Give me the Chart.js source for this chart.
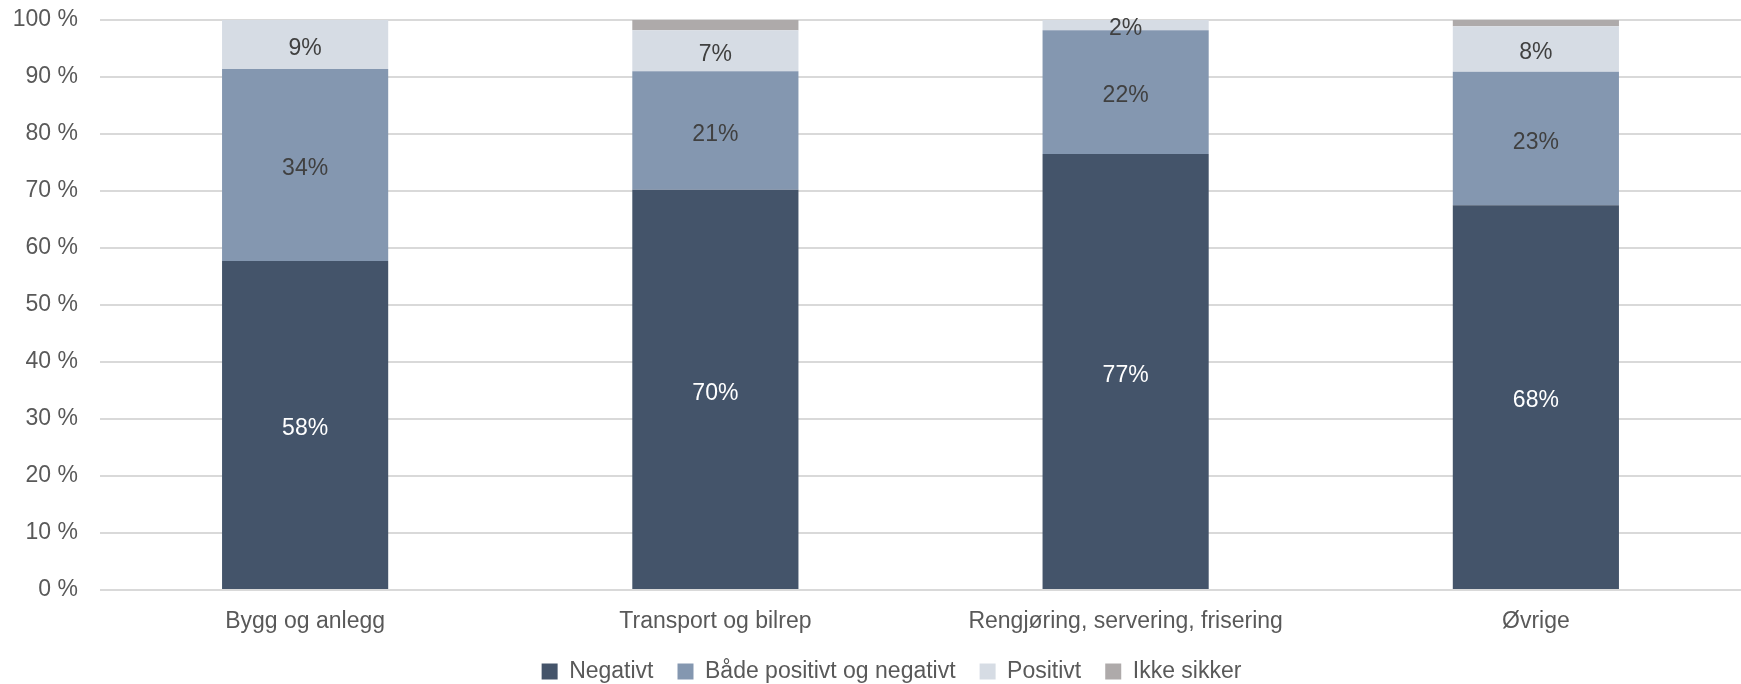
<!DOCTYPE html>
<html lang="no">
<head>
    <meta charset="UTF-8">
    <title>Holdning etter bransje</title>
    <script src="https://cdn.jsdelivr.net/npm/chart.js@4.4.0/dist/chart.umd.min.js"></script>
    <style>
        html, body { margin: 0; padding: 0; background: #fff; }
        #wrap { width: 1741px; height: 684px; }
    </style>
</head>
<body>
<div id="wrap"><canvas id="myChart" width="1741" height="684"></canvas></div>
<script>
    var categories = ['Bygg og anlegg', 'Transport og bilrep', 'Rengjøring, servering, frisering', 'Øvrige'];
    var negativt = [57.7, 70.2, 76.5, 67.5];
    var begge = [33.7, 20.8, 21.7, 23.4];
    var positivt = [8.6, 7.2, 1.8, 8.0];
    var ikkeSikker = [0, 1.8, 0, 1.1];
    var yTicks = [0, 10, 20, 30, 40, 50, 60, 70, 80, 90, 100];

    var textColor = '#595959';
    var font = 'Liberation Sans, Arial, sans-serif';
    var fontSize = 23;

    // draws the percentage in the middle of each segment (not for "Ikke sikker")
    var segmentLabels = {
        id: 'segmentLabels',
        afterDatasetsDraw: function(chart) {
            var ctx = chart.ctx;
            ctx.save();
            ctx.font = fontSize + 'px ' + font;
            ctx.textAlign = 'center';
            ctx.textBaseline = 'middle';
            chart.data.datasets.forEach(function(ds, i) {
                if (ds.noLabel) return;
                var meta = chart.getDatasetMeta(i);
                meta.data.forEach(function(bar, j) {
                    var v = ds.data[j];
                    if (!v) return;
                    ctx.fillStyle = ds.labelColor;
                    ctx.fillText(Math.round(v) + '%', bar.x, (bar.y + bar.base) / 2 + 4);
                });
            });
            ctx.restore();
        }
    };

    // fixed legend height so the plot gets the same room as in the original,
    // and the legend sits a bit right of centre like in the original
    var legendHeight = {
        id: 'legendHeight',
        beforeLayout: function(chart) {
            var lg = chart.legend;
            if (lg && !lg._fixed) {
                var fit = lg.fit;
                lg.fit = function() { fit.call(this); this.height = 48; };
                lg._fixed = true;
            }
        },
        afterLayout: function(chart) {
            chart.legend.left += 21;
            chart.legend.right += 21;
        }
    };

    var ctx = document.getElementById('myChart').getContext('2d');
    var chart = new Chart(ctx, {
        type: 'bar',
        data: {
            labels: categories,
            datasets: [
                { label: 'Negativt', data: negativt, backgroundColor: '#44546A', labelColor: '#ffffff' },
                { label: 'Både positivt og negativt', data: begge, backgroundColor: '#8497B0', labelColor: '#404040' },
                { label: 'Positivt', data: positivt, backgroundColor: '#D6DCE4', labelColor: '#404040' },
                { label: 'Ikke sikker', data: ikkeSikker, backgroundColor: '#AEAAAA', noLabel: true }
            ]
        },
        options: {
            responsive: false,
            animation: false,
            datasets: { bar: { categoryPercentage: 1, barPercentage: 0.405 } },
            layout: { padding: 0 },
            plugins: {
                tooltip: { enabled: false },
                legend: {
                    position: 'bottom',
                    labels: {
                        color: textColor,
                        font: { size: fontSize, family: font },
                        boxWidth: 16,
                        boxHeight: 16,
                        padding: 24
                    }
                }
            },
            scales: {
                x: {
                    stacked: true,
                    grid: { display: false, drawTicks: false, tickLength: 0 },
                    border: { display: false },
                    afterFit: function(axis) { axis.height = 46; },
                    ticks: { color: textColor, font: { size: fontSize, family: font }, padding: 18 }
                },
                y: {
                    stacked: true,
                    min: 0,
                    max: 100,
                    afterBuildTicks: function(axis) {
                        axis.ticks = yTicks.map(function(v) { return { value: v }; });
                    },
                    afterFit: function(axis) {
                        axis.width = 100;
                        axis.paddingTop = 20;
                        axis.paddingBottom = 14;
                    },
                    grid: { color: '#D9D9D9', lineWidth: 2, drawTicks: false },
                    border: { display: false },
                    ticks: {
                        color: textColor,
                        font: { size: fontSize, family: font },
                        padding: 22,
                        callback: function(v) { return v + ' %'; }
                    }
                }
            }
        },
        plugins: [segmentLabels, legendHeight]
    });
</script>
</body>
</html>
